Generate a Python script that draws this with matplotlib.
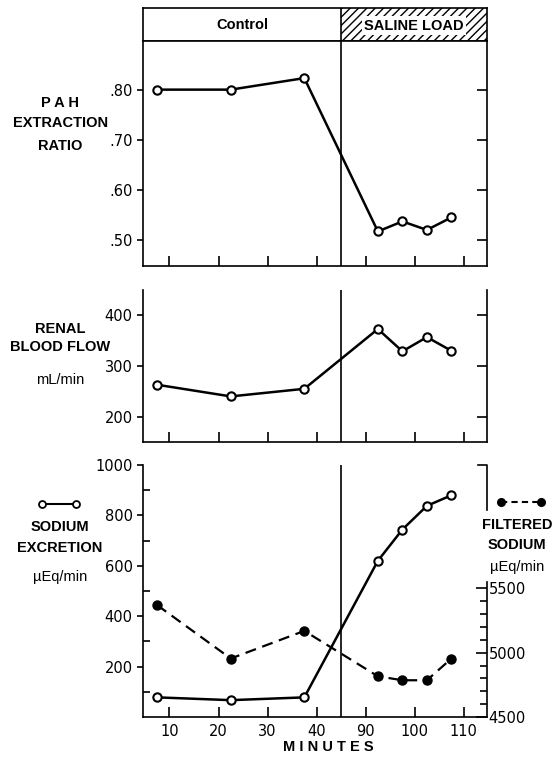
import numpy as np
import matplotlib
matplotlib.use("Agg")
import matplotlib.pyplot as plt
from matplotlib.lines import Line2D

# data
minutes = [7.5, 22.5, 37.5, 92.5, 97.5, 102.5, 107.5]
pah_ratio = [0.80, 0.80, 0.823, 0.517, 0.537, 0.520, 0.545]
blood_flow = [263, 240, 255, 373, 329, 357, 330]
na_excretion = [78, 67, 78, 620, 744, 838, 880]
na_filtered = [5370, 4955, 5170, 4817, 4786, 4786, 4955]

xticks = [10, 20, 30, 40, 90, 100, 110]
xticklabels = ['10', '20', '30', '40', '90', '100', '110']
pah_ticks = [0.80, 0.70, 0.60, 0.50]
pah_labels = ['.80', '.70', '.60', '.50']
rbf_ticks = [200, 300, 400]
na_ticks = [200, 400, 600, 800, 1000]
filt_ticks = [4500, 5000, 5500]

BREAK_LO, BREAK_HI = 45, 85   # minutes 45..85 are cut out of the axis
XMIN, XMAX = 4.6, 114.75


def fwd(t):
    t = np.asarray(t, dtype=float)
    return np.where(t <= BREAK_LO, t, np.where(t >= BREAK_HI, t - (BREAK_HI - BREAK_LO), BREAK_LO))


def inv(u):
    u = np.asarray(u, dtype=float)
    return np.where(u <= BREAK_LO, u, u + (BREAK_HI - BREAK_LO))


plt.rcParams['font.family'] = ['DejaVu Sans']
plt.rcParams['hatch.linewidth'] = 1.0
LBL = dict(family='Liberation Sans', fontweight='bold', fontsize=10.5)
TICKFS = 10.5
SPW = 1.2

fig = plt.figure(figsize=(5.57, 7.57), dpi=100)
L, W = 0.2567, 0.6176
ax_h = fig.add_axes([L, 0.9458, W, 0.0436])
ax1 = fig.add_axes([L, 0.6486, W, 0.2972])
ax2 = fig.add_axes([L, 0.4161, W, 0.2008])
ax3 = fig.add_axes([L, 0.0528, W, 0.3329])

for ax in (ax_h, ax1, ax2, ax3):
    ax.set_xscale('function', functions=(fwd, inv))
    ax.set_xlim(XMIN, XMAX)
    for s in ax.spines.values():
        s.set_linewidth(SPW)

# header bar
ax_h.set_ylim(0, 1)
ax_h.set_xticks([])
ax_h.set_yticks([])
ax_h.axvspan(BREAK_LO, XMAX, facecolor='white', edgecolor='black', hatch='////', lw=0)
ax_h.axvline(BREAK_LO, color='black', lw=SPW)
ax_h.text((XMIN + BREAK_LO) / 2, 0.5, 'Control', ha='center', va='center', **LBL)
ax_h.text(99.9, 0.47, 'SALINE LOAD', ha='center', va='center',
          bbox=dict(facecolor='white', edgecolor='none', pad=1.5), **LBL)

line_kw = dict(color='black', lw=1.8, marker='o', ms=6, mfc='white', mec='black', mew=1.5, zorder=3)

# PAH extraction ratio
ax1.plot(minutes, pah_ratio, **line_kw)
ax1.set_ylim(0.448, 0.897)
ax1.set_yticks(pah_ticks, pah_labels)

# renal blood flow
ax2.plot(minutes, blood_flow, **line_kw)
ax2.set_ylim(150, 450)
ax2.set_yticks(rbf_ticks)
ax2.spines['top'].set_visible(False)

for ax in (ax1, ax2):
    ax.set_xticks(xticks, [])
    ax.tick_params(axis='x', direction='in', length=7, width=SPW)
    ax.tick_params(axis='y', direction='out', length=4, width=SPW, labelsize=TICKFS)
    ax.spines['right'].set_visible(False)
    sec = ax.secondary_yaxis('right')
    sec.set_yticks(ax.get_yticks())
    sec.tick_params(direction='in', length=7, width=SPW, labelright=False)
    sec.spines['right'].set_linewidth(SPW)
    ax.axvline(BREAK_LO, color='black', lw=SPW)

# sodium excretion
ax3.plot(minutes, na_excretion, **line_kw)
ax3.set_ylim(0, 1000)
ax3.set_yticks(na_ticks)
ax3.set_yticks(np.arange(100, 1000, 200), minor=True)
ax3.set_xticks(xticks, xticklabels)
ax3.tick_params(axis='x', direction='in', length=7, width=SPW, labelsize=TICKFS, pad=5)
ax3.tick_params(axis='y', which='major', direction='out', length=4, width=SPW, labelsize=TICKFS)
ax3.tick_params(axis='y', which='minor', direction='in', length=5, width=SPW)
ax3.spines['top'].set_visible(False)
ax3.spines['right'].set_visible(False)
ax3.axvline(BREAK_LO, color='black', lw=SPW)

# filtered sodium on the right axis
ax3t = ax3.twinx()
ax3t.set_xlim(XMIN, XMAX)
ax3t.plot(minutes, na_filtered, color='black', lw=1.6, ls='--', dashes=(5, 3),
          marker='o', ms=6.5, mfc='black', zorder=3)
ax3t.set_ylim(4500, 6460)
ax3t.set_yticks(filt_ticks)
ax3t.set_yticks(np.arange(4600, 5500, 100), minor=True)
ax3t.tick_params(axis='y', which='major', direction='in', length=8, width=SPW, labelsize=TICKFS, pad=1)
ax3t.tick_params(axis='y', which='minor', direction='in', length=5, width=SPW)
for k in ('left', 'top', 'bottom'):
    ax3t.spines[k].set_visible(False)
ax3t.spines['right'].set_linewidth(SPW)
ax3t.spines['right'].set_bounds(4500, 5550)
ax3t.add_line(Line2D([0.974, 1.0, 1.0], [1.0, 1.0, 0.821], transform=ax3t.transAxes,
                     color='black', lw=SPW, clip_on=False))

# left side labels
cx = 0.108
fig.text(cx, 0.864, 'P A H', ha='center', va='center', **LBL)
fig.text(cx, 0.8375, 'EXTRACTION', ha='center', va='center', **LBL)
fig.text(cx, 0.807, 'RATIO', ha='center', va='center', **LBL)
fig.text(cx, 0.5654, 'RENAL', ha='center', va='center', **LBL)
fig.text(cx, 0.5416, 'BLOOD FLOW', ha='center', va='center', **LBL)
fig.text(cx, 0.498, 'mL/min', ha='center', va='center', family='Liberation Sans', fontsize=10.5)
fig.add_artist(Line2D([0.075, 0.137], [0.3342, 0.3342], color='black', lw=1.5, marker='o',
                      ms=5, mfc='white', mew=1.3))
fig.text(cx, 0.3038, 'SODIUM', ha='center', va='center', **LBL)
fig.text(cx, 0.2761, 'EXCRETION', ha='center', va='center', **LBL)
fig.text(cx, 0.2378, 'µEq/min', ha='center', va='center', family='Liberation Sans', fontsize=10.5)

# right side labels
rx = 0.928
fig.add_artist(Line2D([0.900, 0.972], [0.3369, 0.3369], color='black', lw=1.5, ls='--',
                      dashes=(3, 2), marker='o', ms=5.5, mfc='black'))
fig.text(rx, 0.3065, 'FILTERED', ha='center', va='center', **LBL)
fig.text(rx, 0.28, 'SODIUM', ha='center', va='center', **LBL)
fig.text(rx, 0.251, 'µEq/min', ha='center', va='center', family='Liberation Sans', fontsize=10.5)

fig.text(0.589, 0.0132, 'M I N U T E S', ha='center', va='center', **LBL)

fig.savefig('out.png', dpi=100)
